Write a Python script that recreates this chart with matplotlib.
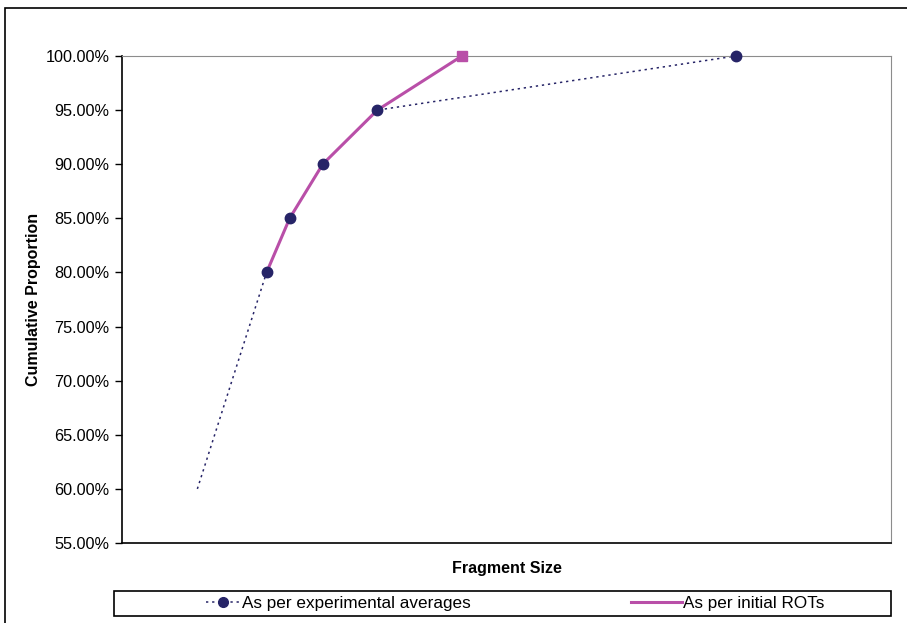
import matplotlib.pyplot as plt
from matplotlib.patches import Rectangle
from matplotlib.lines import Line2D
from matplotlib.ticker import FuncFormatter, MultipleLocator

plt.rcParams['font.family'] = ['Liberation Sans', 'DejaVu Sans']

# fragment sizes (arbitrary units, axis unlabelled) and cumulative proportions
exp_size = [9.8, 18.8, 21.8, 26.1, 33.2, 79.8]
exp_prop = [0.60, 0.80, 0.85, 0.90, 0.95, 1.00]
rot_size = [18.8, 21.8, 26.1, 33.2, 44.2]
rot_prop = [0.80, 0.85, 0.90, 0.95, 1.00]

navy = '#262467'
pink = '#b94fa8'
dots = (0, (1.5, 2.5))

fig = plt.figure(figsize=(9.07, 6.23), dpi=100)
ax = fig.add_axes([122 / 907, 1 - 543 / 623, (891 - 122) / 907, (543 - 56) / 623])

# outer chart-area border
fig.patches.append(Rectangle((5 / 907, -0.1), 1.2, 1 - 8 / 623 + 0.1,
                             transform=fig.transFigure, fill=False,
                             edgecolor='black', linewidth=1.2))

ax.plot(exp_size, exp_prop, color=navy, linestyle=dots, linewidth=1.1, zorder=2)
ax.plot(rot_size, rot_prop, color=pink, linewidth=2.2, zorder=3, clip_on=False)
ax.plot(exp_size[1:], exp_prop[1:], linestyle='none', marker='o', markersize=7.5,
        color=navy, zorder=4, clip_on=False)
ax.plot(rot_size[-1:], rot_prop[-1:], linestyle='none', marker='s', markersize=7,
        color=pink, zorder=4, clip_on=False)

ax.set_xlim(0, 100)
ax.set_ylim(0.55, 1.00)
ax.yaxis.set_major_locator(MultipleLocator(0.05))
ax.yaxis.set_major_formatter(FuncFormatter(lambda v, p: f'{v * 100:.2f}%'))
ax.set_xticks([])
ax.tick_params(axis='y', direction='out', length=5, width=1, labelsize=11.7, pad=4)

for side in ('top', 'right'):
    ax.spines[side].set_color('#8c8c8c')
for side in ('left', 'bottom'):
    ax.spines[side].set_color('black')
    ax.spines[side].set_linewidth(1.2)

ax.set_ylabel('Cumulative Proportion', fontsize=11.5, fontweight='bold', labelpad=3)
ax.set_xlabel('Fragment Size', fontsize=11.5, fontweight='bold', labelpad=13)

# legend box along the bottom
fig.patches.append(Rectangle((114 / 907, 1 - 616 / 623), (891 - 114) / 907, 25 / 623,
                             transform=fig.transFigure, fill=False,
                             edgecolor='black', linewidth=1.2))
exp_handle = Line2D([], [], color=navy, linestyle=dots, linewidth=1.1,
                    marker='o', markersize=7)
rot_handle = Line2D([], [], color=pink, linewidth=2.2)
leg1 = fig.legend([exp_handle], ['As per experimental averages'],
                  loc='center left', bbox_to_anchor=(197 / 907, 1 - 603.5 / 623),
                  frameon=False, fontsize=12.3, handlelength=2.0,
                  handletextpad=0.15, borderpad=0)
leg2 = fig.legend([rot_handle], ['As per initial ROTs'],
                  loc='center left', bbox_to_anchor=(622 / 907, 1 - 603.5 / 623),
                  frameon=False, fontsize=12.3, handlelength=3.0,
                  handletextpad=0.05, borderpad=0)

fig.savefig('out.png', dpi=100)
